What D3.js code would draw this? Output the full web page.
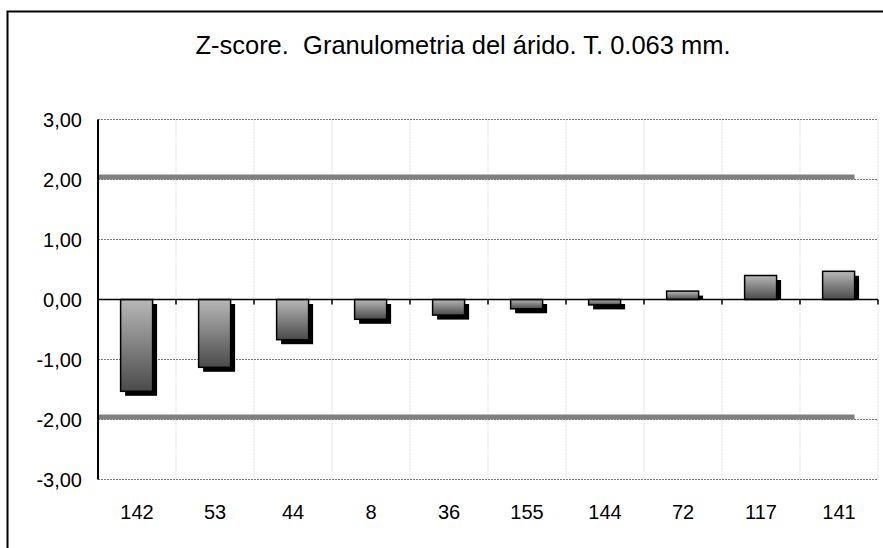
<!DOCTYPE html>
<html><head><meta charset="utf-8">
<script src="https://cdn.jsdelivr.net/npm/d3@7"></script>
<style>
html,body{margin:0;padding:0;background:#fff;}
svg{display:block;font-family:"Liberation Sans",Arial,sans-serif;}
</style></head>
<body>
<svg id="chart" width="883" height="548"></svg>
<script>
const title = "Z-score.  Granulometria del árido. T. 0.063 mm.";
const categories = ["142","53","44","8","36","155","144","72","117","141"];
const zscores = [-1.53,-1.13,-0.67,-0.33,-0.26,-0.155,-0.09,0.14,0.40,0.47];
const yTicks = [3,2,1,0,-1,-2,-3];
const limitValues = [2.04,-1.96];

const svg = d3.select("#chart");
const pLeft = 98, pRight = 878, pTop = 119.5, pBottom = 479.5;

const x = d3.scaleBand().domain(categories).range([pLeft, pRight]).padding(0);
const y = d3.scaleLinear().domain([-3, 3]).range([pBottom, pTop]);
const fmt = v => d3.format(".2f")(v).replace(".", ",").replace("−","-");

// frame
svg.append("rect").attr("x",7.5).attr("y",11.5).attr("width",940).attr("height",600)
  .attr("fill","#fff").attr("stroke","#000").attr("stroke-width",2);

// title
svg.append("text").attr("x",463).attr("y",53.5).attr("text-anchor","middle")
  .attr("font-size",25.5).attr("fill","#000").style("white-space","pre")
  .attr("xml:space","preserve")
  .text(title);

// gradient
const defs = svg.append("defs");
const grad = defs.append("linearGradient").attr("id","barGrad")
  .attr("x1",0).attr("y1",0).attr("x2",0).attr("y2",1);
grad.append("stop").attr("offset","0%").attr("stop-color","#b8b8b8");
grad.append("stop").attr("offset","100%").attr("stop-color","#4a4a4a");

// vertical gridlines
const bounds = categories.slice(1).map(c => x(c)).concat([pRight]);
svg.append("g").selectAll("line").data(bounds).join("line")
  .attr("x1",d=>d).attr("x2",d=>d).attr("y1",pTop).attr("y2",pBottom)
  .attr("stroke","#dedede").attr("stroke-width",1).attr("stroke-dasharray","2,1");

// horizontal gridlines
svg.append("g").selectAll("line").data(yTicks.filter(t=>t!==0)).join("line")
  .attr("x1",pLeft).attr("x2",pRight).attr("y1",d=>y(d)).attr("y2",d=>y(d))
  .attr("stroke","#7a7a7a").attr("stroke-width",1).attr("stroke-dasharray","2,1");

// limit lines
svg.append("g").selectAll("line").data(limitValues).join("line")
  .attr("x1",pLeft).attr("x2",x(categories[categories.length-1]) + x.bandwidth()*0.7)
  .attr("y1",d=>y(d)).attr("y2",d=>y(d))
  .attr("stroke","#808080").attr("stroke-width",5);

// bars
const bw = x.bandwidth()*0.41;
const bx = c => x(c) + x.bandwidth()*0.29;
const y0 = y(0);
const data = categories.map((c,i)=>({c, v:zscores[i]}));
const sh = 4.5;
svg.append("g").selectAll("rect").data(data).join("rect")
  .attr("x",d=>bx(d.c)+sh)
  .attr("y",d=>Math.min(y(d.v),y0)+sh)
  .attr("width",bw)
  .attr("height",d=> d.v>=0 ? Math.max(0, y0 - y(d.v) - sh) : Math.abs(y(d.v)-y0))
  .attr("fill","#000");
svg.append("g").selectAll("rect").data(data).join("rect")
  .attr("x",d=>bx(d.c))
  .attr("y",d=>Math.min(y(d.v),y0))
  .attr("width",bw)
  .attr("height",d=>Math.abs(y(d.v)-y0))
  .attr("fill","url(#barGrad)").attr("stroke","#000").attr("stroke-width",1.5);

// zero axis with ticks
svg.append("line").attr("x1",pLeft).attr("x2",pRight).attr("y1",y0).attr("y2",y0)
  .attr("stroke","#000").attr("stroke-width",1.5);
svg.append("g").selectAll("line").data(bounds).join("line")
  .attr("x1",d=>d).attr("x2",d=>d).attr("y1",y0).attr("y2",y0+5)
  .attr("stroke","#000").attr("stroke-width",1.5);

// y axis
svg.append("line").attr("x1",pLeft).attr("x2",pLeft).attr("y1",pTop).attr("y2",pBottom)
  .attr("stroke","#000").attr("stroke-width",2);

// y labels
svg.append("g").selectAll("text").data(yTicks).join("text")
  .attr("x",82).attr("y",d=>y(d)+7.3).attr("text-anchor","end")
  .attr("font-size",20).attr("fill","#000").text(d=>fmt(d));

// x labels
svg.append("g").selectAll("text").data(categories).join("text")
  .attr("x",d=>x(d)+x.bandwidth()/2).attr("y",519).attr("text-anchor","middle")
  .attr("font-size",20).attr("fill","#000").text(d=>d);
</script>
</body></html>
